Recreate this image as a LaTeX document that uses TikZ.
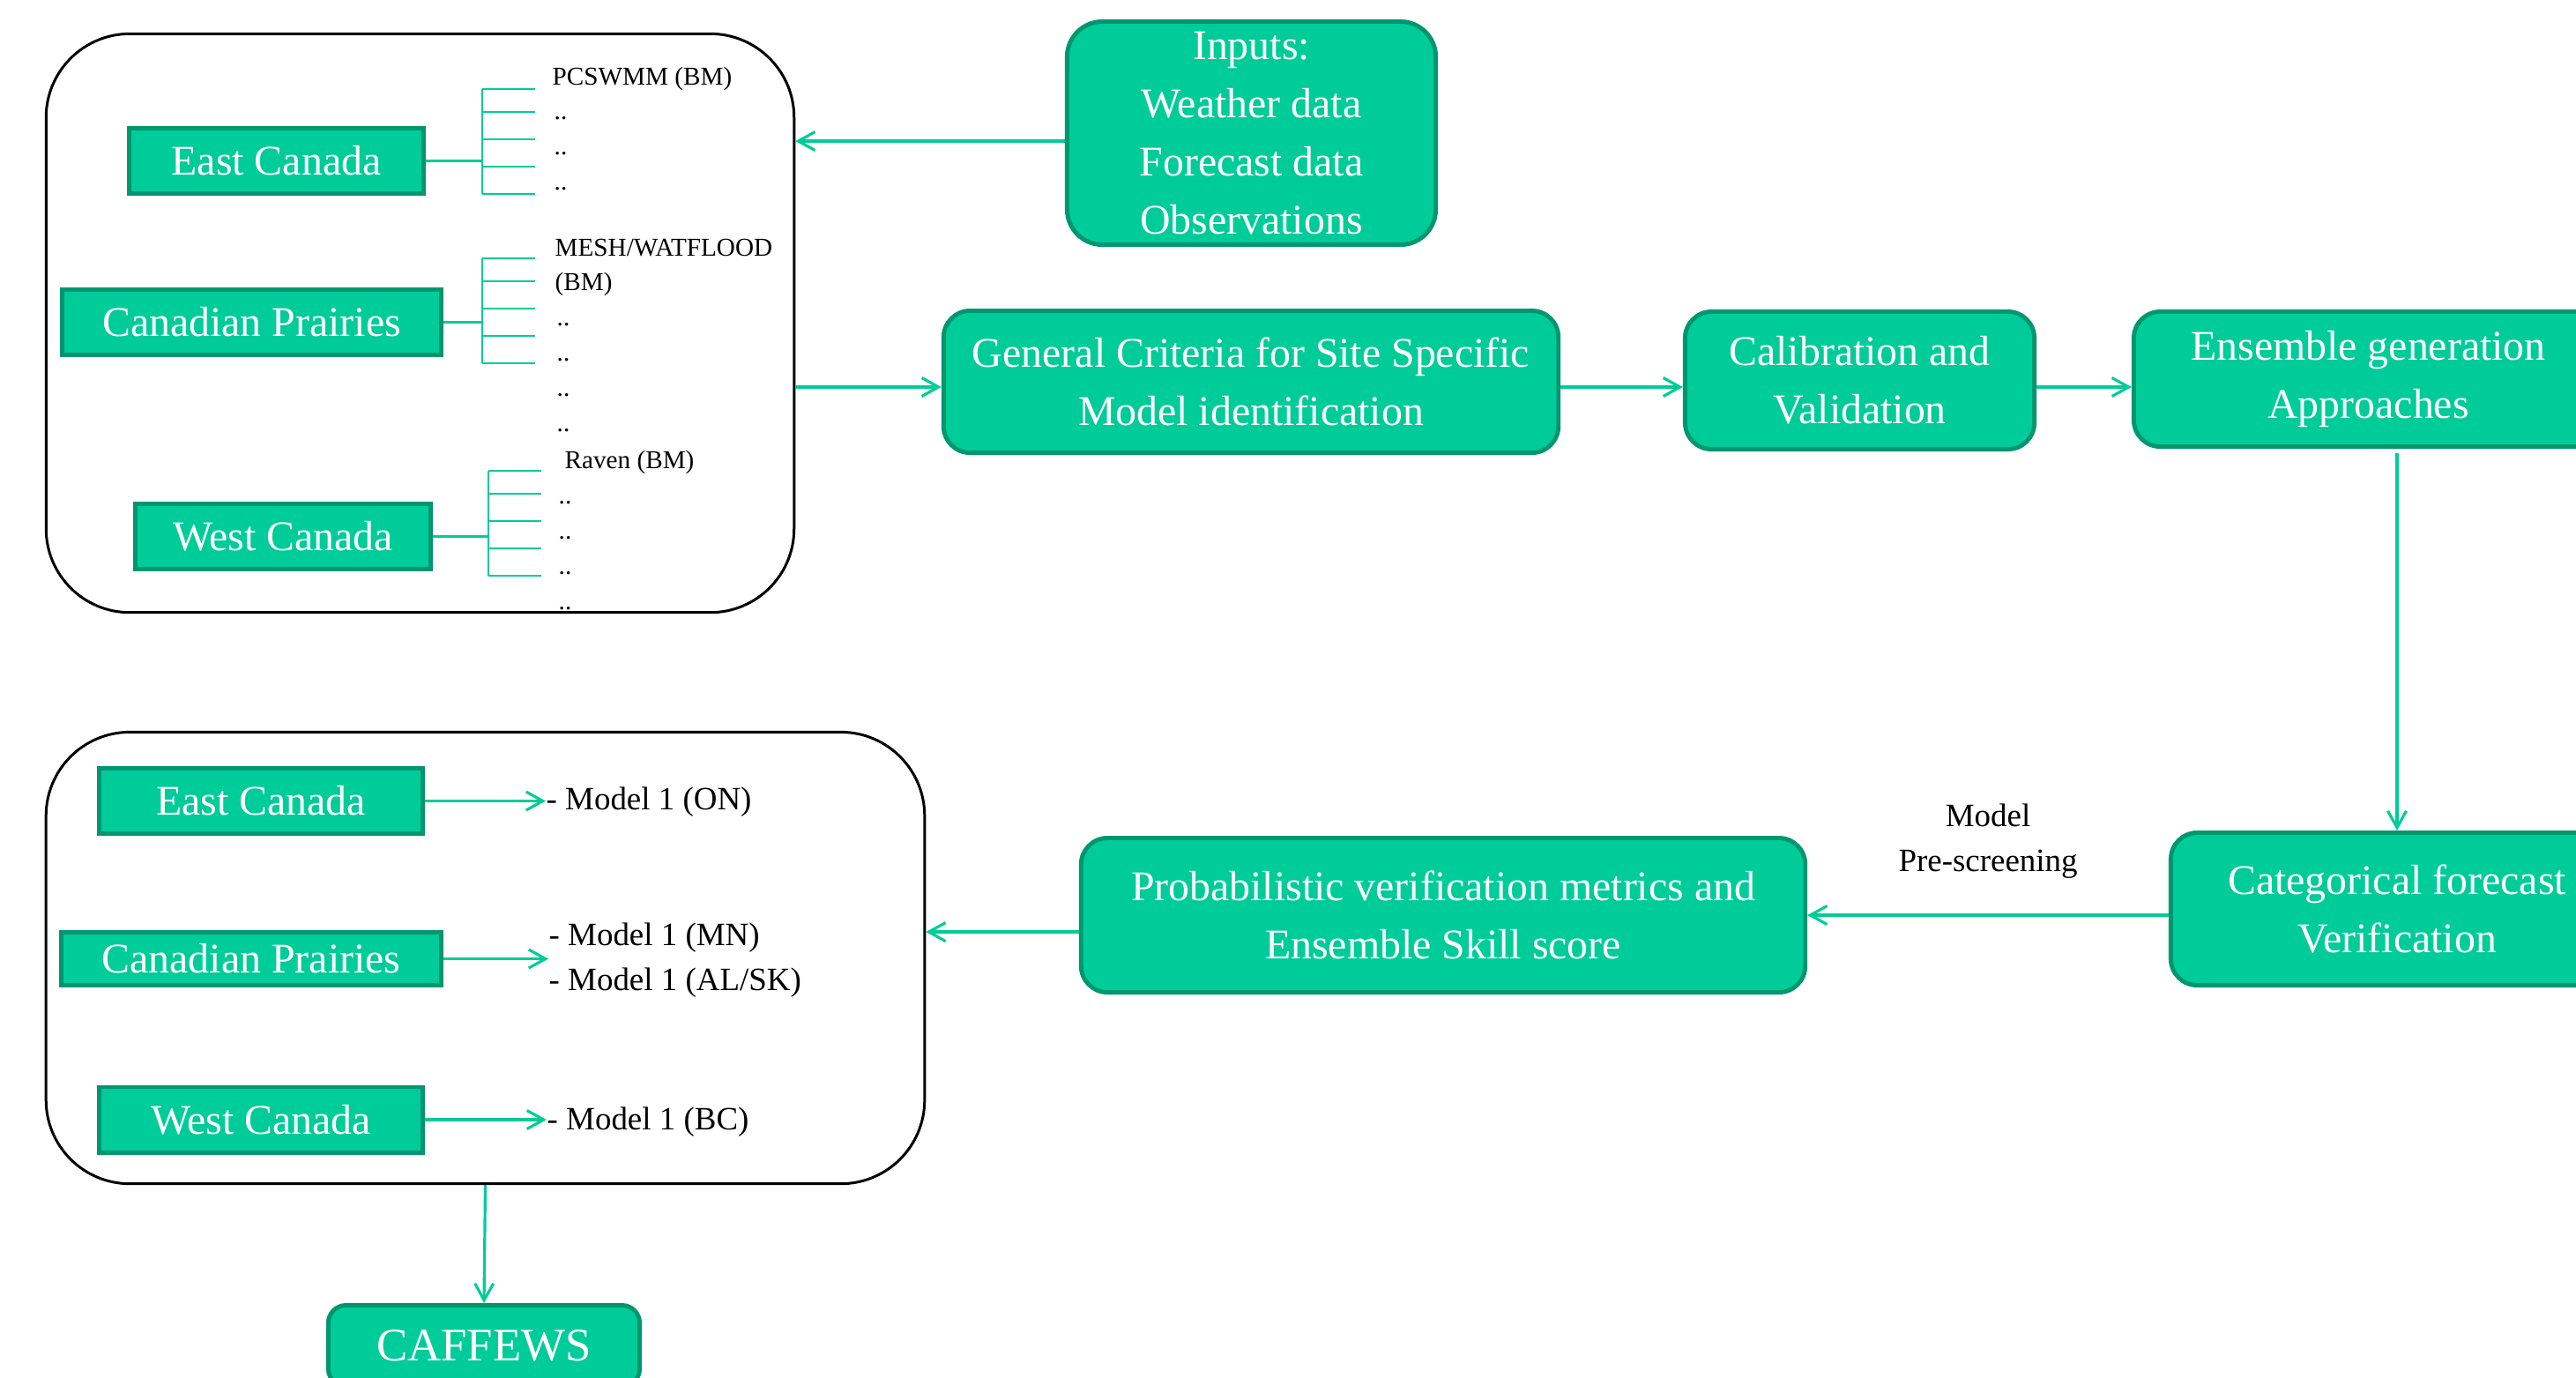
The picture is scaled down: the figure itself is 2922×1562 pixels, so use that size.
\documentclass[tikz,border=0pt]{standalone}
\usepackage{fontspec}
\setmainfont{Liberation Serif}
\usetikzlibrary{positioning,arrows.meta}
\definecolor{boxfill}{RGB}{0,204,153}
\definecolor{boxedge}{RGB}{0,150,112}
\definecolor{linkgreen}{RGB}{0,204,153}

\begin{document}
\begin{tikzpicture}[x=0.01cm,y=-0.01cm,
  greenbox/.style={rectangle,fill=boxfill,draw=boxedge,line width=1.4pt,text=white,
    align=center,inner sep=0pt,font=\fontsize{13.6}{18.8}\selectfont},
  procbox/.style={greenbox,rounded corners=3mm},
  regionbox/.style={greenbox,minimum height=0.74cm},
  groupbox/.style={rectangle,draw=black,line width=0.85pt,rounded corners=9.5mm,inner sep=0pt},
  link/.style={color=linkgreen,line width=0.9pt,-{Straight Barb[length=1.9mm,width=2.1mm]}},
  fork/.style={color=linkgreen,line width=0.6pt},
  modelname/.style={inner sep=0pt,anchor=base west,font=\fontsize{8.3}{10}\selectfont},
  modeltext/.style={inner sep=0pt,anchor=west,align=left,font=\fontsize{10.5}{14.5}\selectfont}]
  \useasboundingbox (0,0) rectangle (2922,1562);

  % upper block: regions and base models
  \node[groupbox,minimum width=8.48cm,minimum height=6.56cm] (topgroup) at (476.5,366.5) {};
  \node[regionbox,minimum width=3.34cm] (eastTop) at (313.5,182.5) {East Canada};
  \node[regionbox,minimum width=4.30cm] (prairTop) at (285.5,365.5) {Canadian Prairies};
  \node[regionbox,minimum width=3.35cm] (westTop) at (321,608.5) {West Canada};
  \foreach \reg/\fx/\fy in {eastTop/547/101, prairTop/547/293, westTop/554/534} {
    \coordinate (\reg Fork) at (\fx,\fy);
    \draw[fork] (\reg Fork) -- ++(0,119);
    \draw[fork] (\reg.east) -- (\reg.east -| \reg Fork);
    \foreach \d in {0,26,57,88,119}
      \draw[fork] (\reg Fork) ++(0,\d) -- ++(60,0);
  }
  \node[modelname] (pcswmm) at (626,96) {PCSWMM (BM)};
  \foreach \i/\y in {1/135,2/175,3/215}
    \node[modelname] (eastDots\i) at (628,\y) {..};
  \node[modelname] (mesh) at (629,290) {MESH/WATFLOOD};
  \node[modelname] (meshBM) at (629,329) {(BM)};
  \foreach \i/\y in {1/369,2/409,3/449,4/489}
    \node[modelname] (prairDots\i) at (631,\y) {..};
  \node[modelname] (raven) at (640,531) {Raven (BM)};
  \foreach \i/\y in {1/571,2/611,3/651,4/691}
    \node[modelname] (westDots\i) at (633,\y) {..};

  % inputs and processing chain
  \coordinate (chainLine) at (0,439);
  \node[procbox,rounded corners=4mm,minimum width=4.18cm,minimum height=2.53cm] (inputs) at (1419.5,151)
    {Inputs:\\Weather data\\Forecast data\\Observations};
  \node[procbox,minimum width=6.97cm,minimum height=1.61cm] (general) at (1419,433)
    {General Criteria for Site Specific\\Model identification};
  \node[procbox,minimum width=3.96cm,minimum height=1.56cm] (calib) at (2109.5,431.5)
    {Calibration and\\Validation};
  \node[procbox,minimum width=5.32cm,minimum height=1.53cm] (ensemble) at (2686.5,430)
    {Ensemble generation\\Approaches};
  \node[procbox,minimum width=5.13cm,minimum height=1.73cm] (categ) at (2719,1031)
    {Categorical forecast\\Verification};
  \node[procbox,minimum width=8.21cm,minimum height=1.75cm] (prob) at (1637,1038)
    {Probabilistic verification metrics and\\Ensemble Skill score};

  % lower block: selected models
  \node[groupbox,minimum width=9.96cm,minimum height=5.12cm] (botgroup) at (550.5,1086.5) {};
  \node[regionbox,minimum width=3.67cm] (eastBot) at (296,908.5) {East Canada};
  \node[regionbox,minimum width=4.31cm,minimum height=0.60cm] (prairBot) at (285,1087.5) {Canadian Prairies};
  \node[regionbox,minimum width=3.67cm] (westBot) at (296,1270) {West Canada};
  \node[modeltext] (onModel) at (619,910) {- Model 1 (ON)};
  \node[modeltext] (mnModel) at (622,1089) {- Model 1 (MN)\\- Model 1 (AL/SK)};
  \node[modeltext] (bcModel) at (620,1273) {- Model 1 (BC)};
  \node[procbox,rounded corners=2mm,minimum width=3.53cm,minimum height=0.92cm,
    font=\fontsize{15}{18}\selectfont] (caffews) at (549,1526.5) {CAFFEWS};

  \path[link]
    ([yshift=-0.9mm]inputs.west) edge ([yshift=-0.9mm]inputs.west -| topgroup.east)
    (topgroup.east |- chainLine) edge (general.west |- chainLine)
    (general.east |- chainLine) edge (calib.west |- chainLine)
    (calib.east |- chainLine) edge (ensemble.west |- chainLine)
    (categ.north |- ensemble.south) edge[shorten <=0.5mm] (categ.north)
    (prob.east -| categ.west) edge node[above=4mm,inner sep=0pt,text=black,align=center,
        font=\fontsize{10.5}{14.5}\selectfont] (screening) {Model\\Pre-screening} (prob.east)
    ([yshift=-1.9mm]prob.west) edge ([yshift=-1.9mm]prob.west -| botgroup.east)
    (botgroup.south) edge (caffews.north)
    (eastBot.east) edge (eastBot.east -| onModel.west)
    (prairBot.east) edge (prairBot.east -| mnModel.west)
    (westBot.east) edge (westBot.east -| bcModel.west);
\end{tikzpicture}
\end{document}
